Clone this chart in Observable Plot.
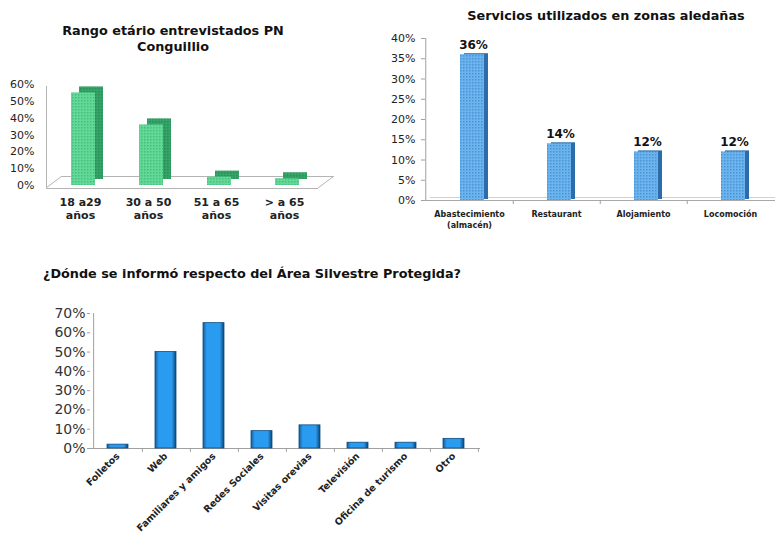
<!DOCTYPE html>
<html><head><meta charset="utf-8">
<script src="https://cdn.jsdelivr.net/npm/d3@7"></script>
<script src="https://cdn.jsdelivr.net/npm/@observablehq/plot@0.6"></script>
<style>
body{margin:0;background:#fff;}
#root{position:relative;width:775px;height:537px;overflow:hidden;font-family:Verdana,"DejaVu Sans",sans-serif;background:#fff;}
.t{position:absolute;font-weight:bold;font-size:12.8px;color:#111;line-height:16px;white-space:nowrap;}
.p{position:absolute;}
</style></head><body><div id="root">
<div class="t" style="left:40px;top:23px;width:266px;text-align:center;">Rango etário entrevistados PN<br>Conguillio</div>
<div class="t" style="left:446px;top:8px;width:320px;text-align:center;">Servicios utilizados en zonas aledañas</div>
<div class="t" style="left:43px;top:266px;">¿Dónde se informó respecto del Área Silvestre Protegida?</div>
<div class="p" id="c1" style="left:0;top:70px;"></div>
<div class="p" id="c2" style="left:385px;top:25px;"></div>
<div class="p" id="c3" style="left:0;top:300px;"></div>
</div>
<script>
// ---------- data ----------
const ageCategories = ["18 a29\naños", "30 a 50\naños", "51 a 65\naños", "> a 65\naños"];
const ageShares = [0.55, 0.36, 0.05, 0.04];
const ageTicks = [0, 0.1, 0.2, 0.3, 0.4, 0.5, 0.6];

const serviceCategories = ["Abastecimiento\n(almacén)", "Restaurant", "Alojamiento", "Locomoción"];
const serviceShares = [0.36, 0.14, 0.12, 0.12];
const serviceTicks = [0, 0.05, 0.10, 0.15, 0.20, 0.25, 0.30, 0.35, 0.40];

const sourceCategories = ["Folletos", "Web", "Familiares y amigos", "Redes Sociales", "Visitas orevias", "Televisión", "Oficina de turismo", "Otro"];
const sourceShares = [0.02, 0.50, 0.65, 0.09, 0.12, 0.03, 0.03, 0.05];
const sourceTicks = [0, 0.1, 0.2, 0.3, 0.4, 0.5, 0.6, 0.7];

// ---------- helpers ----------
const FONT = "Verdana, 'DejaVu Sans', sans-serif";
const pct = d3.format(".0%");
const NS = "http://www.w3.org/2000/svg";
function addDefs(svg, html) {
  const defs = document.createElementNS(NS, "defs");
  defs.innerHTML = html;
  svg.insertBefore(defs, svg.firstChild);
}
function addPath(svg, d, stroke) {
  const p = document.createElementNS(NS, "path");
  p.setAttribute("d", d); p.setAttribute("stroke", stroke); p.setAttribute("fill", "none");
  svg.appendChild(p);
}

// ---------- chart 1 ----------
{
  const W = 345, H = 160, ml = 46, mr = 27;
  const step = (W - ml - mr) / ageCategories.length;
  const data = ageCategories.map((c, i) => ({c, v: ageShares[i]}));
  const svg = Plot.plot({
    width: W, height: H, marginTop: 14, marginBottom: 45, marginLeft: ml, marginRight: mr,
    style: {fontFamily: FONT, background: "transparent", overflow: "visible", color: "#222"},
    x: {domain: ageCategories, paddingInner: 0.65, paddingOuter: 0.325, axis: null},
    y: {domain: [0, 0.6], axis: null},
    marks: [
      Plot.ruleY([0], {stroke: "#b4b4b4", dy: 3}),
      Plot.ruleY([0], {stroke: "#b4b4b4", dy: -9, dx: 16}),
      Plot.ruleX([ageCategories[0]], {x: d => d, y1: 0, y2: 0.6, dx: -step / 2, dy: 2, stroke: "#b4b4b4"}),
      Plot.barY(data, {x: "c", y: "v", fill: "url(#greenSide)", dx: 11, dy: -6}),
      Plot.barY(data, {x: "c", y: "v", fill: "url(#greenPat)", dx: 3}),
      Plot.axisY({ticks: ageTicks, tickFormat: pct, tickSize: 0, tickPadding: 12, fontSize: 11, label: null}),
      Plot.axisX({tickSize: 0, tickPadding: 11, fontSize: 11, fontWeight: "bold", lineHeight: 1.18, label: null})
    ]
  });
  addDefs(svg, `
    <pattern id="greenPat" width="3" height="3" patternUnits="userSpaceOnUse">
      <rect width="3" height="3" fill="#64d898"/><rect width="1.5" height="1.5" fill="#44c07c"/>
    </pattern>
    <pattern id="greenSide" width="3" height="3" patternUnits="userSpaceOnUse">
      <rect width="3" height="3" fill="#35a468"/><rect width="1.5" height="1.5" fill="#2a8d56"/>
    </pattern>`);
  const [x0, x1] = svg.scale("x").range;
  const y0 = svg.scale("y").apply(0);
  addPath(svg, `M${x0},${y0 + 3}L${x0 + 16},${y0 - 9}M${x1},${y0 + 3}L${x1 + 16},${y0 - 9}`, "#b4b4b4");
  document.getElementById("c1").appendChild(svg);
}

// ---------- chart 2 ----------
{
  const W = 390, H = 215, ml = 40, mr = 0;
  const step = (W - ml - mr) / serviceCategories.length;
  const data = serviceCategories.map((c, i) => ({c, v: serviceShares[i]}));
  const svg = Plot.plot({
    width: W, height: H, marginTop: 13, marginBottom: 40, marginLeft: ml, marginRight: mr,
    style: {fontFamily: FONT, background: "transparent", overflow: "visible", color: "#222"},
    x: {domain: serviceCategories, paddingInner: 0.72, paddingOuter: 0.36, axis: null},
    y: {domain: [0, 0.4], axis: null},
    marks: [
      Plot.ruleY([0], {stroke: "#d0d0d0", dy: -3, dx: 5}),
      Plot.ruleY([0], {stroke: "#a8a8a8"}),
      Plot.ruleX([serviceCategories[0]], {x: d => d, y1: 0, y2: 0.4, dx: -step / 2, stroke: "#a0a0a0"}),
      Plot.ruleX(serviceCategories.slice(0, -1), {x: d => d, y1: 0, y2: -0.01, dx: step / 2, stroke: "#a0a0a0"}),
      Plot.barY(data, {x: "c", y: "v", fill: "#2d6caa", dx: 7, dy: -1}),
      Plot.barY(data, {x: "c", y: "v", fill: "url(#bluePat)", dx: 3}),
      Plot.text(data, {x: "c", y: "v", text: d => pct(d.v), dx: 4, dy: -6, lineAnchor: "bottom", fontSize: 12, fontWeight: "bold", fill: "#111"}),
      Plot.axisY({ticks: serviceTicks, tickFormat: pct, tickSize: 4, tickPadding: 6, fontSize: 11, stroke: "#a0a0a0", label: null}),
      Plot.axisX({tickSize: 0, tickPadding: 9, fontSize: 8, fontWeight: "bold", lineHeight: 1.35, label: null})
    ]
  });
  addDefs(svg, `
    <pattern id="bluePat" width="3" height="3" patternUnits="userSpaceOnUse">
      <rect width="3" height="3" fill="#6cb4ee"/><rect width="1.5" height="1.5" fill="#4a94d8"/>
    </pattern>`);
  document.getElementById("c2").appendChild(svg);
}

// ---------- chart 3 ----------
{
  const W = 480, H = 237, ml = 90, mr = 0;
  const step = (W - ml - mr) / sourceCategories.length;
  const data = sourceCategories.map((c, i) => ({c, v: sourceShares[i]}));
  const svg = Plot.plot({
    width: W, height: H, marginTop: 13, marginBottom: 89, marginLeft: ml, marginRight: mr,
    style: {fontFamily: FONT, background: "transparent", overflow: "visible", color: "#222"},
    x: {domain: sourceCategories, paddingInner: 0.57, paddingOuter: 0.285, axis: null},
    y: {domain: [0, 0.7], axis: null},
    marks: [
      Plot.ruleX([sourceCategories[0]], {x: d => d, y1: 0, y2: 0.7, dx: -step / 2, stroke: "#a0a0a0"}),
      Plot.ruleX(sourceCategories, {x: d => d, y1: 0, y2: -0.02, dx: step / 2, stroke: "#a0a0a0"}),
      Plot.ruleY([0], {stroke: "#a0a0a0"}),
      Plot.barY(data, {x: "c", y: "v", fill: "url(#blueGrad)", stroke: "#0d4c80", strokeWidth: 0.8}),
      Plot.axisY({ticks: sourceTicks, tickFormat: pct, tickSize: 3, tickPadding: 2, fontSize: 14, stroke: "#a0a0a0", fill: "#333", label: null}),
      Plot.axisX({tickSize: 0, tickPadding: 6, tickRotate: -45, fontSize: 9.5, fontWeight: "bold", label: null})
    ]
  });
  addDefs(svg, `
    <linearGradient id="blueGrad" x1="0" x2="1" y1="0" y2="0">
      <stop offset="0" stop-color="#155f9c"/>
      <stop offset="0.18" stop-color="#2a9cf0"/>
      <stop offset="0.8" stop-color="#2a9cf0"/>
      <stop offset="1" stop-color="#0b4474"/>
    </linearGradient>`);
  document.getElementById("c3").appendChild(svg);
}
</script>
</body></html>
